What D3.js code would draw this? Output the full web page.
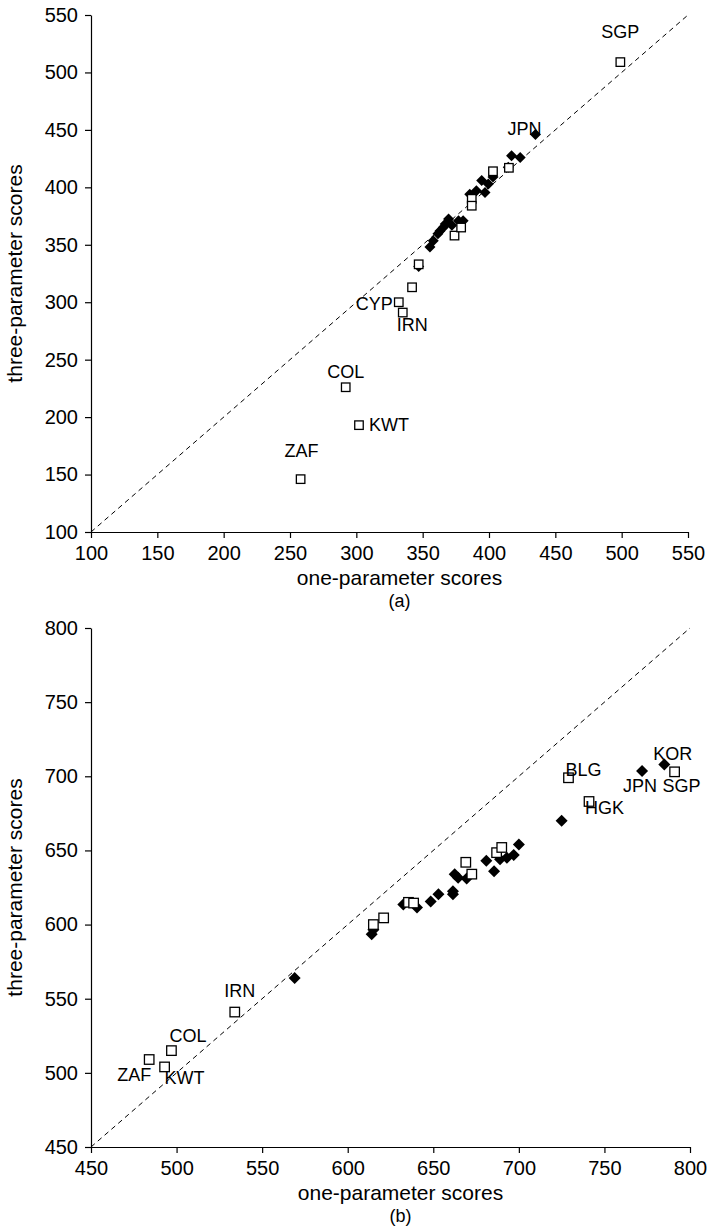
<!DOCTYPE html>
<html>
<head>
<meta charset="utf-8">
<script src="https://cdn.jsdelivr.net/npm/d3@7"></script>
<style>
  body { margin: 0; background: #fff; }
  svg { display: block; font-family: "Liberation Sans", Arial, Helvetica, sans-serif; }
  .axis path, .axis line { stroke: #000; stroke-width: 1.2; }
  .axis text { font-size: 20px; fill: #000; font-family: "Liberation Sans", Arial, sans-serif; }
</style>
</head>
<body>
<svg id="chart"></svg>
<script>
// ---- data: [one-parameter score, three-parameter score, country code (optional)]
const ticksA = [100, 150, 200, 250, 300, 350, 400, 450, 500, 550];
const ticksB = [450, 500, 550, 600, 650, 700, 750, 800];

const openA = [
  [499, 509, 'SGP'], [258, 146, 'ZAF'], [302, 193, 'KWT'], [292, 226, 'COL'],
  [332, 300, 'CYP'], [335, 291, 'IRN'], [342, 313], [347, 333], [374, 358],
  [379, 365], [387, 390], [387, 384], [403, 414], [415, 417]
];
const filledA = [
  [347, 331], [355.5, 348], [358, 353.5], [361.5, 359.5], [365.5, 365],
  [369.5, 372.5], [372, 367], [377, 371], [380.5, 371], [367, 368], [363, 362],
  [385.5, 394], [390.5, 397], [397, 395.5], [394.5, 406], [399.5, 403],
  [403, 409], [414.5, 417.5], [417, 427.5], [423.5, 426], [435, 446, 'JPN']
];

const openB = [
  [791, 703, 'SGP'], [729, 699, 'BLG'], [741, 683, 'HGK'], [687, 648.5],
  [690, 652], [669, 642], [672.5, 634], [635.5, 615], [638.5, 614.5],
  [621, 604.5], [615, 600], [534, 541, 'IRN'], [497, 515, 'COL'],
  [484, 509, 'ZAF'], [493, 504, 'KWT']
];
const filledB = [
  [785, 708, 'KOR'], [772, 703.5, 'JPN'], [725, 670], [700, 654], [697, 647],
  [693, 645], [689, 644], [681, 643], [685.5, 636], [662.5, 634], [664.5, 631.5],
  [669.5, 631], [661.5, 622.5], [661.5, 620.5], [653, 620.5], [648.5, 615.5],
  [632.5, 613.5], [640.5, 611.5], [615, 596.5], [614, 593.5], [569, 564]
];

// label placement relative to the marker (layout only)
const labelPosA = {
  SGP: [0, -24, 'middle'], JPN: [-11, 1, 'middle'], CYP: [-6, 8, 'end'],
  IRN: [-6, 18, 'start'], COL: [0, -9, 'middle'], KWT: [10, 6, 'start'],
  ZAF: [1, -22, 'middle']
};
const labelPosB = {
  KOR: [-11, -4, 'start'], SGP: [-12, 20, 'start'], JPN: [-19, 21, 'start'],
  BLG: [-3, -2, 'start'], HGK: [-4, 13, 'start'], IRN: [5, -15, 'middle'],
  COL: [-2, -9, 'start'], ZAF: [-15, 21, 'middle'], KWT: [20, 17, 'middle']
};

const width = 709, height = 1232;
const svg = d3.select('#chart').attr('width', width).attr('height', height);

function panel(opts) {
  const x = d3.scaleLinear().domain(opts.domain).range([opts.left, opts.right]);
  const y = d3.scaleLinear().domain(opts.domain).range([opts.bottom, opts.top]);
  const g = svg.append('g');

  g.append('g')
    .attr('class', 'axis')
    .attr('transform', `translate(0, ${opts.bottom})`)
    .call(d3.axisBottom(x).tickValues(opts.ticks).tickSize(6).tickSizeOuter(0).tickPadding(8));

  g.append('g')
    .attr('class', 'axis')
    .attr('transform', `translate(${opts.left}, 0)`)
    .call(d3.axisLeft(y).tickValues(opts.ticks).tickSize(6).tickSizeOuter(0).tickPadding(7));

  // y = x reference line
  g.append('line')
    .attr('x1', x(opts.domain[0])).attr('y1', y(opts.domain[0]))
    .attr('x2', x(opts.domain[1])).attr('y2', y(opts.domain[1]))
    .attr('stroke', '#000')
    .attr('stroke-width', 1)
    .attr('stroke-dasharray', '5,4');

  const d = opts.diamond;
  g.selectAll('.diamond')
    .data(opts.filled)
    .enter()
    .append('path')
    .attr('class', 'diamond')
    .attr('d', `M0,${-d}L${d},0L0,${d}L${-d},0Z`)
    .attr('transform', p => `translate(${x(p[0])}, ${y(p[1])})`)
    .attr('fill', '#000');

  const s = opts.square;
  g.selectAll('.square')
    .data(opts.open)
    .enter()
    .append('rect')
    .attr('class', 'square')
    .attr('x', p => x(p[0]) - s / 2)
    .attr('y', p => y(p[1]) - s / 2)
    .attr('width', s)
    .attr('height', s)
    .attr('fill', '#fff')
    .attr('stroke', '#000')
    .attr('stroke-width', 1.3);

  const labelled = opts.open.concat(opts.filled).filter(p => p[2]);
  g.selectAll('.code')
    .data(labelled)
    .enter()
    .append('text')
    .attr('class', 'code')
    .attr('x', p => x(p[0]) + opts.labelPos[p[2]][0])
    .attr('y', p => y(p[1]) + opts.labelPos[p[2]][1])
    .attr('text-anchor', p => opts.labelPos[p[2]][2])
    .style('font-size', '18px')
    .text(p => p[2]);

  const cx = (opts.left + opts.right) / 2 + 10;
  g.append('text')
    .attr('x', cx)
    .attr('y', opts.bottom + 53)
    .attr('text-anchor', 'middle')
    .style('font-size', '21px')
    .text('one-parameter scores');

  g.append('text')
    .attr('x', cx)
    .attr('y', opts.bottom + 75)
    .attr('text-anchor', 'middle')
    .style('font-size', '18px')
    .text(opts.tag);

  g.append('text')
    .attr('transform', `translate(22, ${(opts.top + opts.bottom) / 2}) rotate(-90)`)
    .attr('text-anchor', 'middle')
    .style('font-size', '21px')
    .text('three-parameter scores');
}

panel({
  domain: [100, 550], ticks: ticksA, left: 91, right: 688, top: 15, bottom: 532,
  open: openA, filled: filledA, labelPos: labelPosA, tag: '(a)', square: 8.5, diamond: 5.5
});

panel({
  domain: [450, 800], ticks: ticksB, left: 91, right: 690, top: 628, bottom: 1147,
  open: openB, filled: filledB, labelPos: labelPosB, tag: '(b)', square: 9.5, diamond: 6
});
</script>
</body>
</html>
